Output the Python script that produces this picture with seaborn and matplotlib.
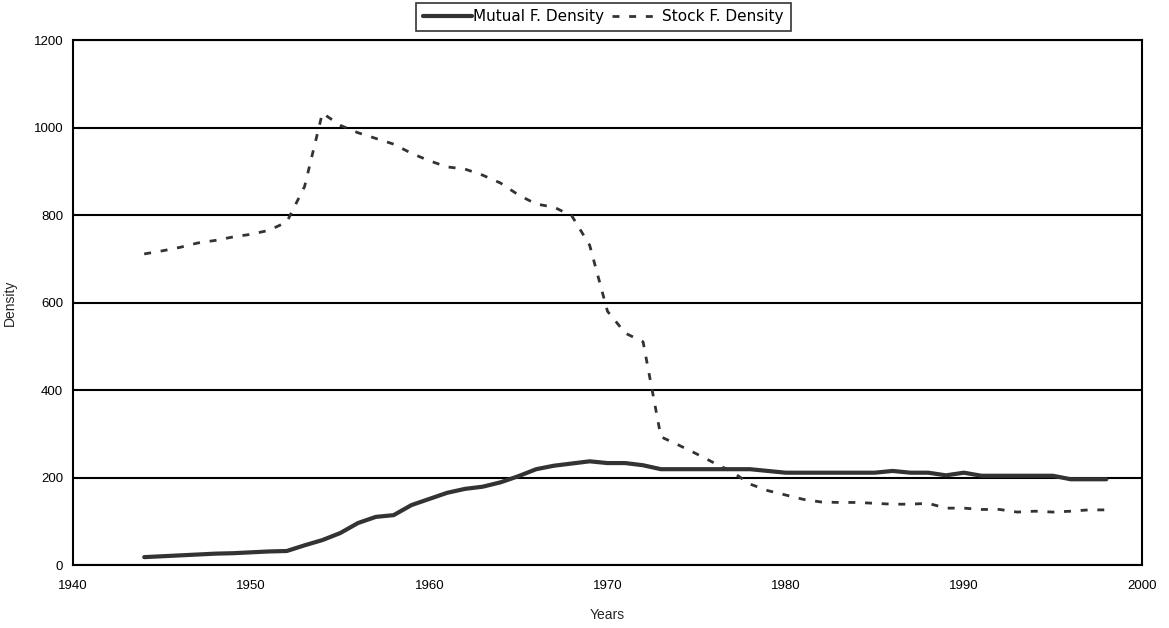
import matplotlib
matplotlib.use("Agg")
import matplotlib.pyplot as plt
from matplotlib.font_manager import FontProperties
import seaborn as sns
import pandas as pd

years = list(range(1944, 1999))

mutual_density = [
    18, 20, 22, 24, 26, 27, 29, 31, 32, 45,
    57, 73, 96, 110, 114, 137, 151, 165, 174, 179,
    189, 203, 219, 227, 232, 237, 233, 233, 228, 219,
    219, 219, 219, 219, 219, 215, 211, 211, 211, 211,
    211, 211, 215, 211, 211, 205, 211, 204, 204, 204,
    204, 204, 196, 196, 196,
]

stock_density = [
    711, 718, 726, 736, 742, 750, 756, 765, 784, 865,
    1033, 1005, 988, 975, 962, 941, 924, 910, 905, 891,
    873, 846, 825, 818, 798, 731, 580, 530, 510, 293,
    274, 254, 233, 213, 185, 170, 160, 150, 144, 143,
    143, 141, 139, 139, 141, 130, 130, 127, 127, 121,
    123, 121, 123, 126, 126,
]

df = pd.DataFrame({
    "Years": years,
    "mutual": mutual_density,
    "stock": stock_density,
})

sns.set_style("white")
plt.rcParams["font.family"] = ["Liberation Sans", "DejaVu Sans"]

fig = plt.figure(figsize=(11.69, 6.28), dpi=100)
ax = fig.add_axes([0.0624, 0.1003, 0.9145, 0.836])

line_color = "#333333"

sns.lineplot(
    data=df, x="Years", y="mutual", ax=ax,
    color=line_color, linewidth=3.0,
    label="Mutual F. Density"
)
sns.lineplot(
    data=df, x="Years", y="stock", ax=ax,
    color=line_color, linewidth=2.0,
    linestyle=(0, (2.5, 3.5)),
    label="Stock F. Density"
)

ax.set_xlim(1940, 2000)
ax.set_ylim(0, 1200)
ax.set_xticks(range(1940, 2001, 10))
ax.set_yticks(range(0, 1201, 200))

ax.grid(axis="y", color="black", linewidth=1.5)
ax.grid(axis="x", visible=False)
for s in ax.spines.values():
    s.set_color("black")
    s.set_linewidth(1.5)
    s.set_visible(True)

ax.tick_params(axis="both", direction="inout", length=6, width=1.2,
               colors="black", labelsize=9.5, pad=4)
ax.tick_params(axis="x", pad=8)

ax.set_xlabel("Years", fontsize=10, labelpad=11)
ax.set_ylabel("Density", fontsize=10, labelpad=12)

legend_font = FontProperties(family="DejaVu Sans", size=11)
leg = ax.legend(
    loc="upper center", bbox_to_anchor=(0.516, 0.996),
    bbox_transform=fig.transFigure,
    ncol=2, frameon=True, fancybox=False,
    edgecolor="black", handlelength=3.2, handletextpad=0.1,
    columnspacing=0.5, borderpad=0.45, borderaxespad=0,
    prop=legend_font,
)
leg.get_frame().set_linewidth(1.2)
for t in leg.get_texts():
    t.set_fontproperties(legend_font)
    t.set_color("black")

fig.savefig("out.png", dpi=100)
plt.close(fig)
